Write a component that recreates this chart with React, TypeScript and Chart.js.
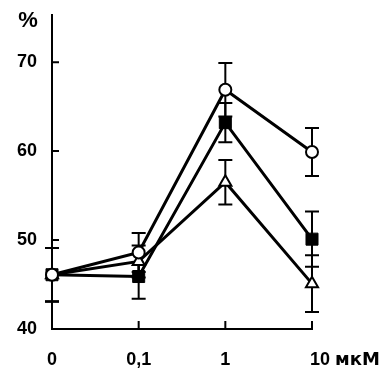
import React, { useEffect, useRef } from 'react';
import { Chart, registerables } from 'chart.js';

Chart.register(...registerables);

const categories = ['0', '0,1', '1', '10'];
const unitLabel = 'мкМ';
const yAxisUnit = '%';
const yTicks = [40, 50, 60, 70];
const yMin = 40;
const yMax = 75.3;

const circleValues = [46.1, 48.6, 66.9, 59.9];
const circleErrors = [3.0, 2.2, 3.0, 2.7];
const squareValues = [46.1, 45.9, 63.2, 50.1];
const squareErrors = [3.0, 2.5, 2.2, 3.1];
const triangleValues = [46.1, 47.6, 56.5, 45.1];
const triangleErrors = [3.0, 1.8, 2.5, 3.2];

const FONT = '"Liberation Sans", Arial, sans-serif';
const UNIT_FONT = '"DejaVu Sans", sans-serif';

const errorBarPlugin = {
  id: 'errorBars',
  beforeDatasetsDraw(chart: any) {
    const ctx = chart.ctx;
    const yScale = chart.scales.y;
    ctx.save();
    ctx.strokeStyle = '#000';
    ctx.lineWidth = 2;
    chart.data.datasets.forEach((ds: any, di: number) => {
      const meta = chart.getDatasetMeta(di);
      const errs: number[] = ds.errors || [];
      meta.data.forEach((pt: any, i: number) => {
        const v = ds.data[i];
        const e = errs[i];
        if (e == null) return;
        const x = pt.x;
        const yTop = yScale.getPixelForValue(v + e);
        const yBot = yScale.getPixelForValue(v - e);
        ctx.beginPath();
        ctx.moveTo(x, yTop);
        ctx.lineTo(x, yBot);
        ctx.moveTo(x - 7, yTop);
        ctx.lineTo(x + 7, yTop);
        ctx.moveTo(x - 7, yBot);
        ctx.lineTo(x + 7, yBot);
        ctx.stroke();
      });
    });
    ctx.restore();
  },
  afterDraw(chart: any) {
    const ctx = chart.ctx;
    const xs = chart.scales.x;
    const ys = chart.scales.y;
    const area = chart.chartArea;
    ctx.save();
    ctx.strokeStyle = '#000';
    ctx.lineWidth = 2;
    ctx.beginPath();
    yTicks.forEach((v) => {
      if (v === yMin) return;
      const y = ys.getPixelForValue(v);
      ctx.moveTo(area.left, y);
      ctx.lineTo(area.left + 7, y);
    });
    categories.forEach((_c, i) => {
      if (i === 0) return;
      const x = xs.getPixelForValue(i);
      ctx.moveTo(x, area.bottom);
      ctx.lineTo(x, area.bottom - 8);
    });
    ctx.stroke();

    ctx.fillStyle = '#000';
    ctx.font = `bold 22px ${FONT}`;
    ctx.textAlign = 'center';
    ctx.textBaseline = 'middle';
    ctx.fillText(yAxisUnit, 28, 21);

    const last = categories.length - 1;
    ctx.font = `bold 18px ${FONT}`;
    ctx.textAlign = 'left';
    ctx.textBaseline = 'alphabetic';
    const x0 = xs.getPixelForValue(last) - 2;
    const baseY = 365;
    const numText = categories[last];
    ctx.fillText(numText, x0, baseY);
    const w = ctx.measureText(numText + ' ').width;
    ctx.font = `bold 18px ${UNIT_FONT}`;
    ctx.fillText(unitLabel, x0 + w, baseY);
    ctx.restore();
  },
};

export default function App() {
  const ref = useRef<HTMLCanvasElement | null>(null);
  useEffect(() => {
    document.body.style.margin = '0';
    if (!ref.current) return;
    const chart = new Chart(ref.current, {
      type: 'line',
      data: {
        labels: categories,
        datasets: [
          {
            data: circleValues,
            errors: circleErrors,
            borderColor: '#000',
            borderWidth: 3,
            pointStyle: 'circle',
            pointRadius: 6,
            pointBorderWidth: 2,
            pointBackgroundColor: '#fff',
            pointBorderColor: '#000',
          } as any,
          {
            data: squareValues,
            errors: squareErrors,
            borderColor: '#000',
            borderWidth: 3,
            pointStyle: 'rect',
            pointRadius: 8.5,
            pointBorderWidth: 1,
            pointBackgroundColor: '#000',
            pointBorderColor: '#000',
          } as any,
          {
            data: triangleValues,
            errors: triangleErrors,
            borderColor: '#000',
            borderWidth: 3,
            pointStyle: 'triangle',
            pointRadius: 7,
            pointBorderWidth: 2,
            pointBackgroundColor: '#fff',
            pointBorderColor: '#000',
          } as any,
        ],
      },
      options: {
        animation: false,
        responsive: true,
        maintainAspectRatio: false,
        layout: { padding: { top: 15, right: 73, left: 0, bottom: 0 } },
        plugins: { legend: { display: false }, tooltip: { enabled: false } },
        scales: {
          x: {
            type: 'category',
            offset: false,
            grid: { display: false, drawTicks: false },
            border: { display: true, color: '#000', width: 2 },
            ticks: {
              color: '#000',
              font: { family: FONT, size: 18, weight: 'bold' },
              padding: 20,
              maxRotation: 0,
              autoSkip: false,
              callback: (_v: any, i: number) => (i === categories.length - 1 ? '' : categories[i]),
            },
            afterFit: (s: any) => {
              s.height = 39;
              s.paddingLeft = 0;
              s.paddingRight = 0;
            },
          },
          y: {
            min: yMin,
            max: yMax,
            grid: { display: false, drawTicks: false },
            border: { display: true, color: '#000', width: 2 },
            ticks: {
              color: '#000',
              font: { family: FONT, size: 18, weight: 'bold' },
              padding: 15,
            },
            afterBuildTicks: (s: any) => {
              s.ticks = yTicks.map((v) => ({ value: v }));
            },
            afterFit: (s: any) => {
              s.width = 52;
              s.paddingTop = 0;
              s.paddingBottom = 0;
            },
          },
        },
      } as any,
      plugins: [errorBarPlugin],
    });
    return () => chart.destroy();
  }, []);
  return (
    <div style={{ position: 'fixed', left: 0, top: 0, width: 385, height: 368, background: '#fff' }}>
      <canvas ref={ref} />
    </div>
  );
}
